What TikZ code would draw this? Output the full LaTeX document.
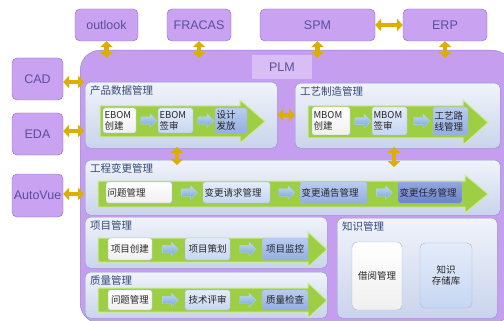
\documentclass[tikz,border=0pt]{standalone}
\usepackage{fontspec}
\setmainfont{Noto Sans CJK SC}
\newfontfamily\latinfont{Liberation Sans}
\usetikzlibrary{positioning,arrows.meta,shapes.arrows}

\definecolor{plmfill}{HTML}{C69EF0}
\definecolor{plmedge}{HTML}{8A86CC}
\definecolor{sysfill}{HTML}{C9A2F2}
\definecolor{sysedge}{HTML}{8A68CC}
\definecolor{systext}{HTML}{5A4FA0}
\definecolor{secedge}{HTML}{8595C6}
\definecolor{sectop}{HTML}{F0F3FA}
\definecolor{secbot}{HTML}{C9D4EC}
\definecolor{sectext}{HTML}{34487A}
\definecolor{bandgreen}{HTML}{9DCE44}
\definecolor{bandedge}{HTML}{CDEA94}
\definecolor{gold}{HTML}{DCAE00}
\definecolor{tipblue}{HTML}{74A8DC}
\definecolor{bTop}{HTML}{E4ECFA}
\definecolor{bBot}{HTML}{C6D6F2}
\definecolor{cTop}{HTML}{BACCF0}
\definecolor{cBot}{HTML}{92AEE2}
\definecolor{dTop}{HTML}{93A6E2}
\definecolor{dBot}{HTML}{6A82CE}

\tikzset{
  sysbox/.style={draw=sysedge, fill=sysfill, rounded corners=5pt, text=systext,
    font=\latinfont\fontsize{12.5}{14}\selectfont, inner sep=0pt},
  secbox/.style={draw=secedge, top color=sectop, bottom color=secbot,
    rounded corners=5pt, anchor=north west, inner sep=0pt},
  sectitle/.style={text=sectext, font=\fontsize{10.5}{12}\selectfont, inner sep=0pt},
  item/.style={draw=secedge!70, rounded corners=2pt, font=\fontsize{9.5}{11}\selectfont,
    text=black!85, align=left, inner xsep=1.5pt, inner ysep=0pt},
  itemA/.style={item, top color=white, bottom color=gray!12},
  itemB/.style={item, top color=bTop, bottom color=bBot},
  itemC/.style={item, top color=cTop, bottom color=cBot},
  itemD/.style={item, top color=dTop, bottom color=dBot},
  tipnode/.style={single arrow, draw=tipblue!55, top color=tipblue!45, bottom color=tipblue,
    minimum height=16pt, minimum width=13pt, single arrow head extend=3pt, inner sep=3.5pt},
  goldlink/.style={draw=gold, line width=4.5pt,
    {Triangle[width=12.5pt,length=6pt]}-{Triangle[width=12.5pt,length=6pt]}},
  bandfill/.style={fill=bandgreen, draw=bandedge, line width=1pt, line join=miter}
}

% x-start, x-head, x-tip, body-top, body-bottom, head-top, head-bottom
\newcommand{\greenband}[7]{%
  \filldraw[bandfill] (#1,#4) -- (#2,#4) -- (#2,#6) -- (#3,{(#6+#7)/2})
    -- (#2,#7) -- (#2,#5) -- (#1,#5) -- cycle;}

\begin{document}
\begin{tikzpicture}[x=1pt,y=-1pt]
\useasboundingbox (0,0) rectangle (504,321);
\clip (0,0) rectangle (504,321);
\fill[white] (0,0) rectangle (504,321);

% outer systems
\node[sysbox, minimum width=63pt, minimum height=32pt] (outlook) at (106.5,25) {outlook};
\node[sysbox, minimum width=64pt, minimum height=32pt] (fracas) at (199,25) {FRACAS};
\node[sysbox, minimum width=115pt, minimum height=32pt] (spm) at (317.5,25) {SPM};
\node[sysbox, minimum width=84pt, minimum height=32pt] (erp) at (445,25) {ERP};
\node[sysbox, minimum width=51pt, minimum height=42pt] (cad) at (37.5,79) {CAD};
\node[sysbox, minimum width=51pt, minimum height=42pt] (eda) at (37.5,134) {EDA};
\node[sysbox, minimum width=51pt, minimum height=43pt] (autovue) at (37.5,195.5) {AutoVue};

% PLM
\node[draw=plmedge, fill=plmfill, rounded corners=20pt, anchor=north west,
  minimum width=432pt, minimum height=273pt] (plm) at (80,50) {};
\node[fill=sysfill!70!white, text=systext, font=\latinfont\fontsize{12.5}{14}\selectfont,
  minimum width=60pt, minimum height=24pt] (plmtxt) at (282,67) {PLM};

\coordinate (tin) at (0,58);
\coordinate (lin) at (84,0);
\draw[goldlink] (outlook.south) -- (outlook.south |- tin);
\draw[goldlink] (fracas.south) -- (fracas.south |- tin);
\draw[goldlink] (spm.south) -- (spm.south |- tin);
\draw[goldlink] (erp.south) -- (erp.south |- tin);
\draw[goldlink] (spm.east) -- (erp.west);
\draw[goldlink] (cad.east |- 0,82) -- (lin |- 0,82);
\draw[goldlink] (eda.east |- 0,131) -- (lin |- 0,131);
\draw[goldlink] (autovue.east |- 0,194) -- (lin |- 0,194);

% sections
\node[secbox, minimum width=192pt, minimum height=66pt] (pdm) at (85,82) {};
\node[secbox, minimum width=205pt, minimum height=65pt] (mfg) at (295,83) {};
\node[secbox, minimum width=415pt, minimum height=55pt] (ecm) at (85,160) {};
\node[secbox, minimum width=242pt, minimum height=51pt] (prj) at (85,217) {};
\node[secbox, minimum width=242pt, minimum height=46pt] (qa) at (85,272) {};
\node[secbox, minimum width=160pt, minimum height=100pt] (km) at (337,218) {};

\node[sectitle, below right=3pt and 5pt of pdm.north west] (pdmtitle) {产品数据管理};
\node[sectitle, below right=3pt and 5pt of mfg.north west] (mfgtitle) {工艺制造管理};
\node[sectitle, below right=3pt and 5pt of ecm.north west] (ecmtitle) {工程变更管理};
\node[sectitle, below right=3pt and 5pt of prj.north west] (prjtitle) {项目管理};
\node[sectitle, below right=3pt and 5pt of qa.north west] (qatitle) {质量管理};
\node[sectitle, below right=3pt and 5pt of km.north west] (kmtitle) {知识管理};

\draw[goldlink] (pdm.east |- 0,115) -- (mfg.west |- 0,115);
\draw[goldlink] (177,147) -- (177,165);
\draw[goldlink] (394,147) -- (394,167);

% green bands
\greenband{100}{240}{265}{106}{137}{100}{143}
\greenband{308}{463}{488}{106}{138}{100}{145}
\greenband{98}{465}{488}{181}{207}{175}{213}
\greenband{98}{308}{327}{238}{262}{232}{267}
\greenband{98}{308}{327}{288}{312}{283}{318}

% product data
\node[itemA, text width=30pt, minimum height=25pt] (e1) at (119.5,120.5) {EBOM\\创建};
\node[itemB, text width=32pt, minimum height=25pt] (e2) at (175.5,120.5) {EBOM\\签审};
\node[itemC, text width=29pt, minimum height=25pt] (e3) at (231,120.5) {设计\\发放};
\path (e1) -- node[tipnode] {} (e2);
\path (e2) -- node[tipnode] {} (e3);

% manufacturing
\node[itemA, text width=35pt, minimum height=28pt] (m1) at (331,121) {MBOM\\创建};
\node[itemB, text width=32pt, minimum height=28pt] (m2) at (389.5,121) {MBOM\\签审};
\node[itemC, text width=32pt, minimum height=28pt] (m3) at (450.5,121) {工艺路\\线管理};
\path (m1) -- node[tipnode] {} (m2);
\path (m2) -- node[tipnode] {} (m3);

% engineering change
\node[itemA, text width=63pt, minimum height=21pt] (c1) at (139,192.5) {问题管理};
\node[itemB, text width=64pt, minimum height=21pt] (c2) at (236.5,192.5) {变更请求管理};
\node[itemC, text width=64pt, minimum height=21pt] (c3) at (333.5,192.5) {变更通告管理};
\node[itemD, text width=61pt, minimum height=21pt] (c4) at (430,192.5) {变更任务管理};
\path (c1) -- node[tipnode] {} (c2);
\path (c2) -- node[tipnode] {} (c3);
\path (c3) -- node[tipnode] {} (c4);

% project
\node[itemA, align=center, text width=41pt, minimum height=22pt] (p1) at (130,249) {项目创建};
\node[itemB, align=center, text width=42pt, minimum height=22pt] (p2) at (207.5,249) {项目策划};
\node[itemC, align=center, text width=43pt, minimum height=22pt] (p3) at (285,249) {项目监控};
\path (p1) -- node[tipnode] {} (p2);
\path (p2) -- node[tipnode] {} (p3);

% quality
\node[itemA, align=center, text width=41pt, minimum height=20pt] (q1) at (130,300) {问题管理};
\node[itemB, align=center, text width=42pt, minimum height=20pt] (q2) at (207.5,300) {技术评审};
\node[itemC, align=center, text width=43pt, minimum height=20pt] (q3) at (285,300) {质量检查};
\path (q1) -- node[tipnode] {} (q2);
\path (q2) -- node[tipnode] {} (q3);

% knowledge
\node[itemA, align=center, rounded corners=5pt, text width=47pt, minimum height=68pt] (k1) at (377,276) {借阅管理};
\node[itemB, align=center, rounded corners=5pt, text width=49pt, minimum height=65pt] (k2) at (446,275.5) {知识\\存储库};
\end{tikzpicture}
\end{document}
